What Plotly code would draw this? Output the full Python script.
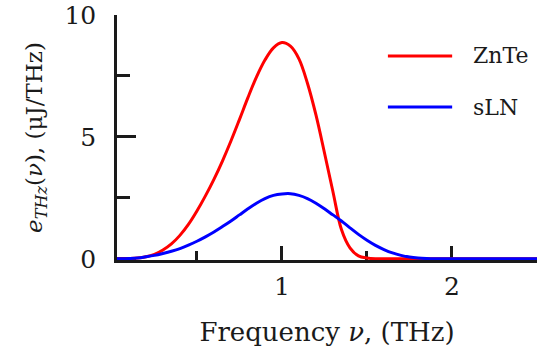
import plotly.graph_objects as go

# Data (frequency in THz, spectral energy in µJ/THz)
freq_znte = [0.03, 0.05, 0.10, 0.15, 0.20, 0.25, 0.30, 0.35, 0.40, 0.45, 0.50, 0.55, 0.60,
             0.65, 0.70, 0.75, 0.80, 0.85, 0.90, 0.95, 1.00, 1.05, 1.10, 1.15, 1.20,
             1.25, 1.30, 1.35, 1.40, 1.45, 1.50, 1.55, 1.60, 2.0, 2.5]
e_znte = [0.0, 0.0, 0.01, 0.03, 0.08, 0.18, 0.36, 0.61, 0.96, 1.41, 1.96, 2.58, 3.26,
          4.01, 4.83, 5.71, 6.61, 7.45, 8.15, 8.65, 8.87, 8.72, 8.20, 7.20, 5.90,
          4.35, 2.75, 1.20, 0.45, 0.12, 0.03, 0.0, 0.0, 0.0, 0.0]

freq_sln = [0.03, 0.05, 0.10, 0.15, 0.20, 0.25, 0.30, 0.35, 0.40, 0.45, 0.50, 0.55, 0.60,
            0.65, 0.70, 0.75, 0.80, 0.85, 0.90, 0.95, 1.00, 1.05, 1.10, 1.15, 1.20,
            1.25, 1.30, 1.35, 1.40, 1.45, 1.50, 1.55, 1.60, 1.65, 1.70, 1.75, 1.80,
            1.85, 1.90, 2.0, 2.5]
e_sln = [0.0, 0.0, 0.01, 0.03, 0.08, 0.14, 0.22, 0.31, 0.42, 0.56, 0.72, 0.90, 1.10,
         1.32, 1.55, 1.80, 2.05, 2.28, 2.47, 2.60, 2.66, 2.67, 2.60, 2.47, 2.28,
         2.05, 1.80, 1.55, 1.27, 1.00, 0.76, 0.55, 0.38, 0.24, 0.14, 0.07, 0.03,
         0.01, 0.0, 0.0, 0.0]

series_names = ["ZnTe", "sLN"]
series_colors = ["#ff0000", "#0000ff"]

y_tickvals = [0, 5, 10]
y_minor = [2.5, 7.5]
x_tickvals = [1, 2]
x_minor = [0.5, 1.5, 2.5]

FONT = "DejaVu Serif"
AX = "#1a1a1a"

fig = go.Figure()
fig.add_trace(go.Scatter(x=freq_znte, y=e_znte, mode="lines", name=series_names[0],
                         line=dict(color=series_colors[0], width=3, shape="spline", smoothing=1)))
fig.add_trace(go.Scatter(x=freq_sln, y=e_sln, mode="lines", name=series_names[1],
                         line=dict(color=series_colors[1], width=3, shape="spline", smoothing=1)))

fig.update_layout(
    width=537, height=354,
    margin=dict(l=117, r=0, t=15, b=94),
    paper_bgcolor="white", plot_bgcolor="white",
    showlegend=False,
    font=dict(family=FONT, color="#1a1a1a", size=24),
)

fig.update_xaxes(
    range=[0.03, 2.5], showgrid=False, zeroline=False,
    showline=True, linecolor=AX, linewidth=2.5, layer="below traces",
    ticks="inside", ticklen=14, tickwidth=2.5, tickcolor=AX,
    tickvals=x_tickvals, ticktext=[str(v) for v in x_tickvals],
    ticklabelstandoff=2,
    minor=dict(tickvals=x_minor, ticks="inside", ticklen=9, tickwidth=2.5, tickcolor=AX, showgrid=False),
    title=dict(text="Frequency <i>ν</i>, (THz)", standoff=24, font=dict(size=26, family=FONT)),
    tickfont=dict(size=25, family=FONT),
)
fig.update_yaxes(
    range=[-0.05, 10], showgrid=False, zeroline=False,
    showline=True, linecolor=AX, linewidth=2.5, layer="below traces",
    ticks="inside", ticklen=19, tickwidth=2.5, tickcolor=AX,
    tickvals=y_tickvals, ticktext=[str(v) for v in y_tickvals],
    ticklabelstandoff=13,
    minor=dict(tickvals=y_minor, ticks="inside", ticklen=13, tickwidth=2.5, tickcolor=AX, showgrid=False),
    title=dict(text="<i>e<sub>THz</sub></i>(<i>ν</i>), (μJ/THz)", standoff=16, font=dict(size=23, family=FONT)),
    tickfont=dict(size=25, family=FONT),
)

# Manual legend (long line samples as in the reference)
legend_rows = [0.833, 0.624]
for name, color, yy in zip(series_names, series_colors, legend_rows):
    fig.add_shape(type="line", xref="paper", yref="paper", x0=0.645, x1=0.798, y0=yy, y1=yy,
                  line=dict(color=color, width=3))
    fig.add_annotation(xref="paper", yref="paper", x=0.843, y=yy, text=name, showarrow=False,
                       xanchor="left", yanchor="middle", font=dict(size=22, family=FONT, color="#1a1a1a"))

fig.write_html("out.html")
